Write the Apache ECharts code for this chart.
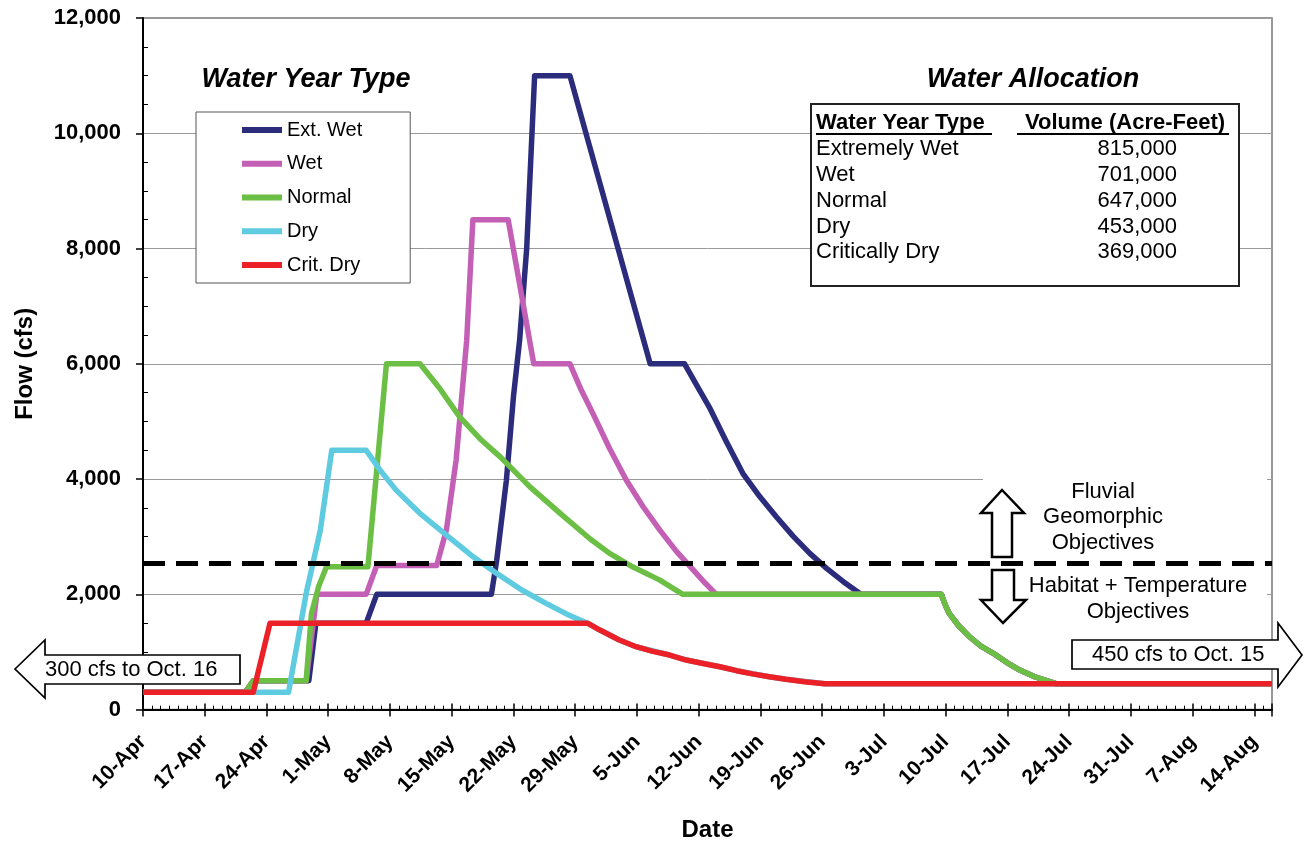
<!DOCTYPE html>
<html>
<head>
<meta charset="utf-8">
<script src="https://cdn.jsdelivr.net/npm/echarts@6/dist/echarts.min.js"></script>
<style>
html,body{margin:0;padding:0;background:#fff;}
#chart{width:1307px;height:843px;}
</style>
</head>
<body>
<div id="chart"></div>
<script>
// ---- Data (x = days after 10-Apr, y = flow in cfs) ----
const tickLabels = ['10-Apr','17-Apr','24-Apr','1-May','8-May','15-May','22-May','29-May','5-Jun','12-Jun','19-Jun','26-Jun','3-Jul','10-Jul','17-Jul','24-Jul','31-Jul','7-Aug','14-Aug'];
const dayMax = 128;
const seriesNames = ['Ext. Wet','Wet','Normal','Dry','Crit. Dry'];
const seriesColors = ['#2b2d7c','#c45fb6','#6cbf45','#5ecbe0','#ec2027'];

const extWet = [[0,300],[11.6,300],[12.5,500],[18.8,500],[19.6,1500],[25.3,1500],[26.5,2000],[39.5,2000],[40.1,2590],[41.2,3980],[42.0,5430],[42.7,6410],[43.5,8000],[44.4,11000],[48.4,11000],[57.5,6000],[61.4,6000],[62.8,5620],[64.2,5250],[66.1,4660],[68.0,4100],[69.9,3700],[71.8,3345],[73.7,3010],[75.6,2710],[77.5,2450],[79.4,2220],[81.4,2000],[90.5,2000],[91.0,1800],[91.4,1670],[92.5,1450],[93.7,1264],[95.0,1100],[96.4,976],[97.9,820],[99.4,687],[101.1,570],[102.8,484],[103.5,450],[128,450]];
const wet = [[0,300],[11.6,300],[12.5,500],[18.5,500],[19.7,2000],[25.3,2000],[26.5,2500],[33.3,2500],[34.4,3120],[35.5,4330],[36.3,5715],[36.7,6410],[37.4,8500],[41.4,8500],[44.3,6000],[48.4,6000],[49.7,5540],[51.0,5140],[52.9,4530],[54.8,3980],[56.7,3520],[58.6,3115],[60.5,2740],[62.4,2420],[63.7,2200],[65.0,2000],[90.5,2000],[91.0,1800],[91.4,1670],[92.5,1450],[93.7,1264],[95.0,1100],[96.4,976],[97.9,820],[99.4,687],[101.1,570],[102.8,484],[103.5,450],[128,450]];
const normal = [[0,300],[11.6,300],[12.5,500],[18.5,500],[19.1,1670],[19.9,2130],[20.8,2480],[25.5,2480],[27.6,6000],[31.4,6000],[33.6,5580],[35.9,5080],[38.2,4700],[40.5,4385],[43.9,3860],[47.3,3404],[50.7,2960],[52.9,2710],[55.5,2478],[58.6,2247],[61.2,2000],[90.5,2000],[91.0,1800],[91.4,1670],[92.5,1450],[93.7,1264],[95.0,1100],[96.4,976],[97.9,820],[99.4,687],[101.1,570],[102.8,484],[103.5,450],[128,450]];
const dry = [[0,300],[16.5,300],[18.5,2015],[20.1,3110],[21.4,4500],[25.3,4500],[27.0,4130],[28.7,3808],[31.5,3390],[34.4,3028],[37.2,2680],[40.1,2363],[42.9,2080],[45.7,1843],[48.0,1660],[50.4,1500],[51.8,1380],[54.0,1207],[55.9,1091],[59.7,947],[61.6,860],[65.4,744],[67.3,675],[71.0,570],[72.9,525],[77.3,450],[128,450]];
const critDry = [[0,300],[12.5,300],[14.4,1500],[50.4,1500],[51.8,1380],[54.0,1207],[55.9,1091],[57.8,1010],[59.7,947],[61.6,860],[63.5,800],[65.4,744],[67.3,675],[69.1,620],[71.0,570],[72.9,525],[75.0,485],[77.3,450],[128,450]];
const thresholdFlow = 2540;

const allocTypes = ['Extremely Wet','Wet','Normal','Dry','Critically Dry'];
const allocVolumes = ['815,000','701,000','647,000','453,000','369,000'];

// ---- Chart ----
const FONT = "'Liberation Sans', Arial, sans-serif";
const chart = echarts.init(document.getElementById('chart'), null, {renderer:'canvas'});
const allData = [extWet, wet, normal, dry, critDry];

const series = seriesNames.map((n,i)=>({
  name:n, type:'line', data: allData[i], symbol:'none', showSymbol:false,
  lineStyle:{width:5.5, color:seriesColors[i], join:'round'},
  itemStyle:{color:seriesColors[i]},
  animation:false
}));
series[series.length-1].markLine = {
  silent:true, symbol:'none', animation:false,
  label:{show:false},
  lineStyle:{color:'#000', width:5, type:[22,11]},
  data:[{yAxis: thresholdFlow}]
};

function txt(text, x, y, opts){
  return {
    type:'text', x:x, y:y, z:100, silent:true,
    style:Object.assign({text:text, fill:'#000', fontFamily:FONT, fontSize:22, align:'left', verticalAlign:'middle'}, opts||{})
  };
}
function poly(points, lw){
  return {type:'polygon', z:100, silent:true, shape:{points:points}, style:{fill:'#fff', stroke:'#000', lineWidth:lw||2}};
}

const graphic = [
  {type:'rect', z:1, silent:true, shape:{x:983,y:468,width:284,height:90}, style:{fill:'#fff'}},
  {type:'rect', z:1, silent:true, shape:{x:945,y:572,width:322,height:56}, style:{fill:'#fff'}},
  txt('Water Year Type', 306, 80, {fontSize:27, fontWeight:'bold', fontStyle:'italic', align:'center'}),
  txt('Water Allocation', 1033, 80, {fontSize:27, fontWeight:'bold', fontStyle:'italic', align:'center'}),
  {type:'rect', z:99, silent:true, shape:{x:811,y:104,width:428,height:182}, style:{fill:'#fff', stroke:'#222', lineWidth:2}},
  txt('Water Year Type', 816, 123, {fontWeight:'bold'}),
  txt('Volume (Acre-Feet)', 1025, 123, {fontWeight:'bold'}),
  {type:'line', z:100, silent:true, shape:{x1:816,y1:134,x2:992,y2:134}, style:{stroke:'#000', lineWidth:2}},
  {type:'line', z:100, silent:true, shape:{x1:1017,y1:134,x2:1229,y2:134}, style:{stroke:'#000', lineWidth:2}},
  txt('Fluvial', 1103, 492, {align:'center'}),
  txt('Geomorphic', 1103, 517, {align:'center'}),
  txt('Objectives', 1103, 543, {align:'center'}),
  txt('Habitat + Temperature', 1138, 586, {align:'center'}),
  txt('Objectives', 1138, 612, {align:'center'}),
  poly([[1002,490],[1024,513],[1012,513],[1012,557],[992,557],[992,513],[981,513]], 2.5),
  poly([[992,570],[1014,570],[1014,600],[1026,600],[1003,623],[981,600],[992,600]], 2.5),
  poly([[15,669],[45,640],[45,655],[240,655],[240,684],[45,684],[45,698]], 1.7),
  txt('300 cfs to Oct. 16', 45, 670),
  poly([[1072,640],[1278,640],[1278,623],[1302,655],[1278,687],[1278,669],[1072,669]], 1.7),
  txt('450 cfs to Oct. 15', 1092, 655)
];
allocTypes.forEach((t,i)=>{
  const y = [149,175,201,227,252][i];
  graphic.push(txt(t, 816, y));
  graphic.push(txt(allocVolumes[i], 1177, y, {align:'right'}));
});

const option = {
  animation:false,
  backgroundColor:'#fff',
  textStyle:{fontFamily:FONT},
  grid:{left:143, top:18, right:35, bottom:133.4, show:true, borderColor:'#777', borderWidth:1.5, backgroundColor:'transparent', containLabel:false, outerBoundsMode:'none'},
  legend:{
    data:seriesNames, orient:'vertical', left:196, top:112,
    padding:[8,48,8,46], itemGap:13.75, itemWidth:40, itemHeight:6, icon:'rect',
    backgroundColor:'#fff', borderColor:'#555', borderWidth:1,
    textStyle:{fontSize:20, color:'#000', fontFamily:FONT}
  },
  xAxis:[{
    type:'value', min:0, max:dayMax, interval:7,
    axisLine:{lineStyle:{color:'#000', width:2}},
    axisTick:{show:true, length:7, lineStyle:{color:'#000', width:1.5}},
    minorTick:{show:false},
    splitLine:{show:false},
    axisLabel:{rotate:45, fontWeight:'bold', fontSize:21, color:'#000', margin:29, fontFamily:FONT,
      formatter:function(v){ return (v%7===0 && tickLabels[v/7]) ? tickLabels[v/7] : ''; }},
    name:'Date', nameLocation:'middle', nameGap:109,
    nameTextStyle:{fontWeight:'bold', fontSize:24, color:'#000', fontFamily:FONT}
  },{
    type:'value', min:0, max:dayMax, interval:7, position:'bottom',
    axisLine:{show:false},
    axisTick:{show:true, inside:true, length:6, lineStyle:{color:'#000', width:1.5}},
    minorTick:{show:true, splitNumber:7, length:4, lineStyle:{color:'#000', width:1}},
    splitLine:{show:false}, axisLabel:{show:false}
  }],
  yAxis:[{
    type:'value', min:0, max:12000, interval:2000,
    axisLine:{show:true, lineStyle:{color:'#000', width:2}},
    axisTick:{show:true, length:7, lineStyle:{color:'#000', width:1.5}},
    splitLine:{show:true, lineStyle:{color:'#9a9a9a', width:1}},
    axisLabel:{fontWeight:'bold', fontSize:22, color:'#000', margin:22, fontFamily:FONT,
      formatter:function(v){ return v.toLocaleString('en-US'); }},
    name:'Flow (cfs)', nameLocation:'middle', nameGap:106,
    nameTextStyle:{fontWeight:'bold', fontSize:24, color:'#000', fontFamily:FONT}
  },{
    type:'value', min:0, max:12000, interval:2000, position:'left',
    axisLine:{show:false},
    axisTick:{show:false, inside:true},
    minorTick:{show:true, splitNumber:4, length:5, lineStyle:{color:'#000', width:1}},
    splitLine:{show:false}, axisLabel:{show:false}
  }],
  series: series,
  graphic: graphic
};
chart.setOption(option);
</script>
</body>
</html>
